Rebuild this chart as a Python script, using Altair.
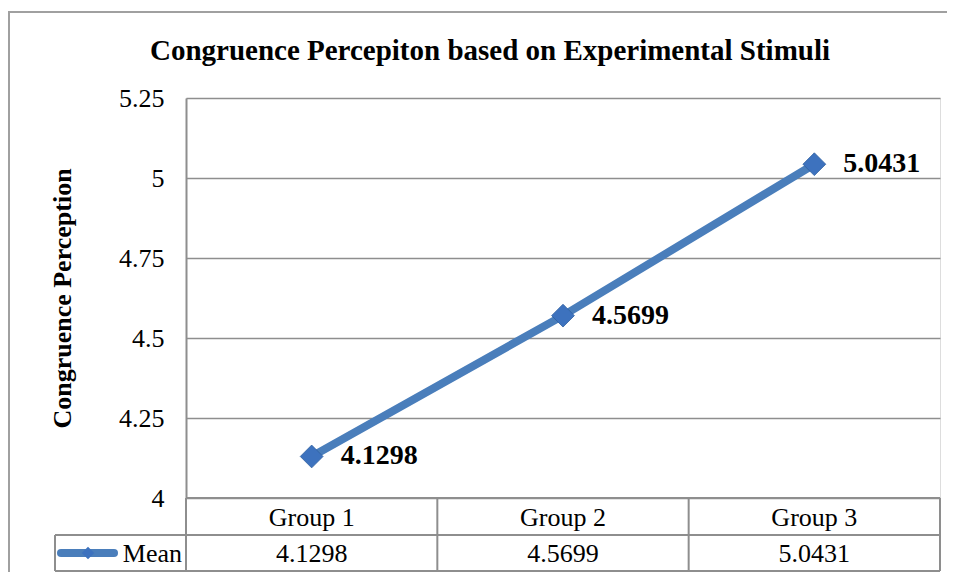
import altair as alt
import pandas as pd

# ---- data ----
groups = ["Group 1", "Group 2", "Group 3"]
means = [4.1298, 4.5699, 5.0431]
series_name = "Mean"
y_ticks = [4, 4.25, 4.5, 4.75, 5, 5.25]
chart_title = "Congruence Percepiton based on Experimental Stimuli"
y_title = "Congruence Perception"

df = pd.DataFrame({
    "group": groups,
    "mean": means,
    "label": [f"{m:.4f}" for m in means],
})
one = pd.DataFrame({"name": [series_name], "title": [chart_title]})

FONT = "Liberation Serif"
W, H = 754, 400
LINE = "#4A7EBB"
MARK = "#3D72BE"
GRID = "#8E8E8E"
BORDER = "#A0A0A0"
R1, R2 = 437, 473  # table row boundaries (plot coords)

xenc = alt.X("group:N", axis=None, scale=alt.Scale(domain=groups))
yenc = alt.Y(
    "mean:Q",
    scale=alt.Scale(domain=[4, 5.25], nice=False, zero=False),
    axis=alt.Axis(
        values=y_ticks, labelExpr="datum.value + ''", grid=True, gridColor=GRID,
        gridWidth=1.5, domain=True, domainColor=GRID, domainWidth=2, ticks=False,
        labelPadding=22, labelFont=FONT, labelFontSize=26, labelColor="black",
        title=y_title, titleFont=FONT, titleFontSize=26, titleFontWeight="bold",
        titleColor="black", titleAngle=270, titleX=-124, titleY=200,
        titleAlign="center", titleBaseline="middle",
    ),
)

border = alt.Chart(one).mark_rect(
    fillOpacity=0, stroke=BORDER, strokeWidth=2
).encode(
    x=alt.value(-177), x2=alt.value(830), y=alt.value(-86), y2=alt.value(540)
)

title = alt.Chart(one).mark_text(
    font=FONT, fontSize=29, fontWeight="bold", color="black",
    align="center", baseline="alphabetic"
).encode(text="title:N", x=alt.value(304), y=alt.value(-38))

line = alt.Chart(df).mark_line(color=LINE, strokeWidth=8).encode(x=xenc, y=yenc)
pts = alt.Chart(df).mark_point(
    shape="diamond", filled=True, size=520, color=MARK, opacity=1,
    stroke="#2F5F9F", strokeWidth=0.8
).encode(x=xenc, y=yenc)
labels = alt.Chart(df).mark_text(
    font=FONT, fontSize=28, fontWeight="bold", color="black",
    align="left", baseline="middle", dx=29
).encode(x=xenc, y=yenc, text="label:N")

# ---- data table below the plot ----
tline = dict(color=GRID, strokeWidth=2)
h1 = alt.Chart(one).mark_rule(**tline).encode(
    x=alt.value(0), x2=alt.value(W), y=alt.value(H))
h2 = alt.Chart(one).mark_rule(**tline).encode(
    x=alt.value(-131), x2=alt.value(W), y=alt.value(R1))
h3 = alt.Chart(one).mark_rule(**tline).encode(
    x=alt.value(-131), x2=alt.value(W), y=alt.value(R2))
v0 = alt.Chart(one).mark_rule(**tline).encode(
    x=alt.value(0), y=alt.value(H), y2=alt.value(R2))
v1 = alt.Chart(one).mark_rule(**tline).encode(
    x=alt.value(W / 3), y=alt.value(H), y2=alt.value(R2))
v2 = alt.Chart(one).mark_rule(**tline).encode(
    x=alt.value(2 * W / 3), y=alt.value(H), y2=alt.value(R2))
v3 = alt.Chart(one).mark_rule(**tline).encode(
    x=alt.value(W), y=alt.value(H), y2=alt.value(R2))
vl = alt.Chart(one).mark_rule(**tline).encode(
    x=alt.value(-131), y=alt.value(R1), y2=alt.value(R2))

head = alt.Chart(df).mark_text(
    font=FONT, fontSize=26, color="black", align="center", baseline="middle"
).encode(x=xenc, y=alt.value((H + R1) / 2 + 1), text="group:N")
vals = alt.Chart(df).mark_text(
    font=FONT, fontSize=26, color="black", align="center", baseline="middle"
).encode(x=xenc, y=alt.value((R1 + R2) / 2 + 1), text="label:N")

leg_line = alt.Chart(one).mark_rule(color=LINE, strokeWidth=8, strokeCap="round").encode(
    x=alt.value(-125), x2=alt.value(-72), y=alt.value((R1 + R2) / 2))
leg_pt = alt.Chart(one).mark_point(
    shape="diamond", filled=True, size=160, color=MARK, opacity=1
).encode(x=alt.value(-98), y=alt.value((R1 + R2) / 2))
leg_txt = alt.Chart(one).mark_text(
    font=FONT, fontSize=26, color="black", align="right", baseline="middle"
).encode(x=alt.value(-4), y=alt.value((R1 + R2) / 2 + 1), text="name:N")

chart = alt.layer(
    border, title, h1, h2, h3, v0, v1, v2, v3, vl,
    line, pts, labels, head, vals, leg_line, leg_pt, leg_txt,
).properties(
    width=W, height=H,
    autosize=alt.AutoSizeParams(type="none"),
    padding={"left": 178, "top": 90, "right": 7, "bottom": 74},
).configure_view(stroke=None).configure(background="white")

chart.save("out.html", embed_options={"renderer": "svg", "actions": False})
